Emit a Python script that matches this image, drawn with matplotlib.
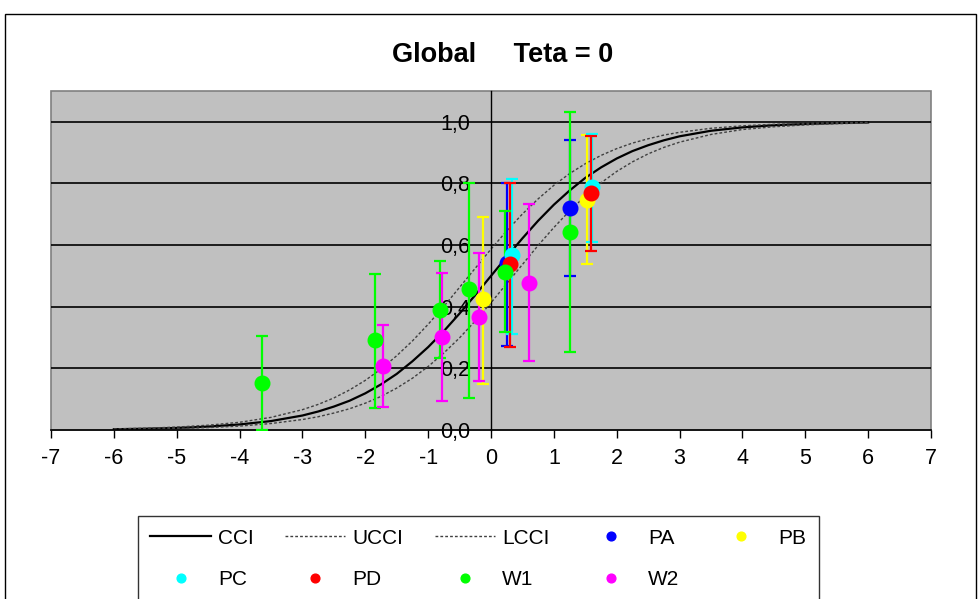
import numpy as np
import matplotlib
matplotlib.use('Agg')
import matplotlib.pyplot as plt
from matplotlib.patches import Rectangle
from matplotlib.ticker import FuncFormatter

plt.rcParams['font.family'] = ['Liberation Sans Narrow', 'Liberation Sans', 'DejaVu Sans']
plt.rcParams['axes.unicode_minus'] = False

# characteristic curve and its confidence band (finer steps through the middle)
theta = [-6.0, -5.5, -5.0, -4.5, -4.0, -3.5,
         -3.0, -2.75, -2.5, -2.25, -2.0, -1.75, -1.5, -1.25, -1.0, -0.75, -0.5, -0.25, 0.0,
         0.25, 0.5, 0.75, 1.0, 1.25, 1.5, 1.75, 2.0, 2.25, 2.5, 2.75, 3.0,
         3.5, 4.0, 4.5, 5.0, 5.5, 6.0]
cci = [0.0025, 0.0041, 0.0067, 0.011, 0.018, 0.029,
       0.047, 0.060, 0.076, 0.095, 0.119, 0.148, 0.182, 0.223, 0.269, 0.321, 0.378, 0.438, 0.500,
       0.562, 0.622, 0.679, 0.731, 0.777, 0.818, 0.852, 0.881, 0.905, 0.924, 0.940, 0.953,
       0.971, 0.982, 0.989, 0.993, 0.996, 0.998]
ucci = [0.0035, 0.0058, 0.0095, 0.0155, 0.025, 0.041,
        0.066, 0.083, 0.104, 0.130, 0.161, 0.198, 0.241, 0.289, 0.343, 0.401, 0.463, 0.525, 0.587,
        0.646, 0.701, 0.750, 0.794, 0.832, 0.864, 0.891, 0.913, 0.931, 0.945, 0.957, 0.966,
        0.979, 0.987, 0.992, 0.995, 0.997, 0.998]
lcci = [0.0017, 0.0029, 0.0047, 0.0078, 0.0127, 0.021,
        0.034, 0.043, 0.055, 0.069, 0.087, 0.109, 0.136, 0.168, 0.206, 0.250, 0.299, 0.354, 0.413,
        0.475, 0.537, 0.599, 0.657, 0.711, 0.759, 0.802, 0.839, 0.870, 0.896, 0.917, 0.934,
        0.959, 0.975, 0.984, 0.990, 0.994, 0.996]

# observed proportions with lower / upper limits
pa_x = [0.25, 1.256]
pa_y = [0.543, 0.721]
pa_lo = [0.273, 0.500]
pa_hi = [0.803, 0.940]

pb_x = [-0.121, 1.52]
pb_y = [0.425, 0.746]
pb_lo = [0.150, 0.539]
pb_hi = [0.692, 0.956]

pc_x = [0.329, 1.61]
pc_y = [0.568, 0.789]
pc_lo = [0.311, 0.609]
pc_hi = [0.815, 0.962]

pd_x = [0.297, 1.585]
pd_y = [0.538, 0.770]
pd_lo = [0.270, 0.581]
pd_hi = [0.800, 0.954]

w1_x = [-3.645, -1.838, -0.81, -0.343, 0.218, 1.256]
w1_y = [0.153, 0.293, 0.390, 0.457, 0.514, 0.641]
w1_lo = [0.0, 0.072, 0.234, 0.104, 0.318, 0.253]
w1_hi = [0.304, 0.506, 0.549, 0.803, 0.711, 1.031]

w2_x = [-1.711, -0.78, -0.185, 0.604]
w2_y = [0.209, 0.303, 0.368, 0.476]
w2_lo = [0.075, 0.093, 0.158, 0.224]
w2_hi = [0.340, 0.511, 0.573, 0.733]

groups = [
    ('PA', '#0000FF', pa_x, pa_y, pa_lo, pa_hi),
    ('PB', '#FFFF00', pb_x, pb_y, pb_lo, pb_hi),
    ('PC', '#00FFFF', pc_x, pc_y, pc_lo, pc_hi),
    ('PD', '#FF0000', pd_x, pd_y, pd_lo, pd_hi),
    ('W1', '#00FF00', w1_x, w1_y, w1_lo, w1_hi),
    ('W2', '#FF00FF', w2_x, w2_y, w2_lo, w2_hi),
]

fig = plt.figure(figsize=(9.79, 5.99), dpi=100)
ax = fig.add_axes([51 / 979, 1 - 430 / 599, 880 / 979, 339 / 599])
ax.set_facecolor('#C0C0C0')

ax.set_xlim(-7, 7)
ax.set_ylim(0, 1.1)

for gy in [0.2, 0.4, 0.6, 0.8, 1.0]:
    ax.axhline(gy, color='black', lw=1.2, zorder=1)

h_cci, = ax.plot(theta, cci, color='black', lw=1.6, label='CCI', zorder=2)
h_u, = ax.plot(theta, ucci, color='#404040', lw=1.0, ls=(0, (2, 1.5)), label='UCCI', zorder=2)
h_l, = ax.plot(theta, lcci, color='#404040', lw=1.0, ls=(0, (2, 1.5)), label='LCCI', zorder=2)

markers = {}
for i, (name, col, gx, gy, lo, hi) in enumerate(groups):
    gx = np.array(gx)
    gy = np.array(gy)
    yerr = [gy - np.array(lo), np.array(hi) - gy]
    ax.errorbar(gx, gy, yerr=yerr, fmt='none', ecolor=col, elinewidth=1.6,
                capsize=4.5, capthick=1.6, zorder=3 + i * 0.01)
for i, (name, col, gx, gy, lo, hi) in enumerate(groups):
    h, = ax.plot(gx, gy, 'o', ms=10.5, color=col, mec=col, ls='none', label=name,
                 zorder=4 + i * 0.01)
    markers[name] = h

# axes cross at the origin like a spreadsheet chart
ax.spines['left'].set_position(('data', 0))
ax.spines['left'].set_color('black')
ax.spines['left'].set_linewidth(1)
ax.spines['bottom'].set_color('black')
ax.spines['bottom'].set_linewidth(1.2)
ax.spines['top'].set_visible(False)
ax.spines['right'].set_visible(False)
ax.add_patch(Rectangle((0, 0), 1, 1, transform=ax.transAxes, fill=False,
                       ec='#808080', lw=1.2, zorder=0.5, clip_on=False))

ax.set_xticks(range(-7, 8))
ax.set_yticks([0.0, 0.2, 0.4, 0.6, 0.8, 1.0])
ax.yaxis.set_major_formatter(FuncFormatter(lambda v, p: f'{v:.1f}'.replace('.', ',')))
ax.tick_params(axis='x', direction='out', length=6, width=1, labelsize=15.5, pad=7)
ax.tick_params(axis='y', direction='out', length=0, labelsize=15.5, pad=15)

fig.text(503 / 979, 1 - 55 / 599, 'Global     Teta = 0', ha='center', va='center',
         fontsize=19.5, fontweight='bold')

fig.patches.append(Rectangle((5 / 979, -0.1), 971 / 979, (599 - 14) / 599 + 0.1,
                             transform=fig.transFigure, fill=False, ec='black', lw=1))

handles = [h_cci, markers['PC'], h_u, markers['PD'], h_l, markers['W1'],
           markers['PA'], markers['W2'], markers['PB']]
leg = fig.legend(handles, [h.get_label() for h in handles], loc='upper left',
                 bbox_to_anchor=(138 / 979, 1 - 516 / 599), ncol=5, frameon=True,
                 fancybox=False, edgecolor='black', fontsize=15, handlelength=2.9,
                 handletextpad=0.34, columnspacing=1.5, borderpad=0.6,
                 labelspacing=1.1, borderaxespad=0, markerscale=0.6)
leg.get_frame().set_linewidth(1)

fig.savefig('out.png', dpi=100)
